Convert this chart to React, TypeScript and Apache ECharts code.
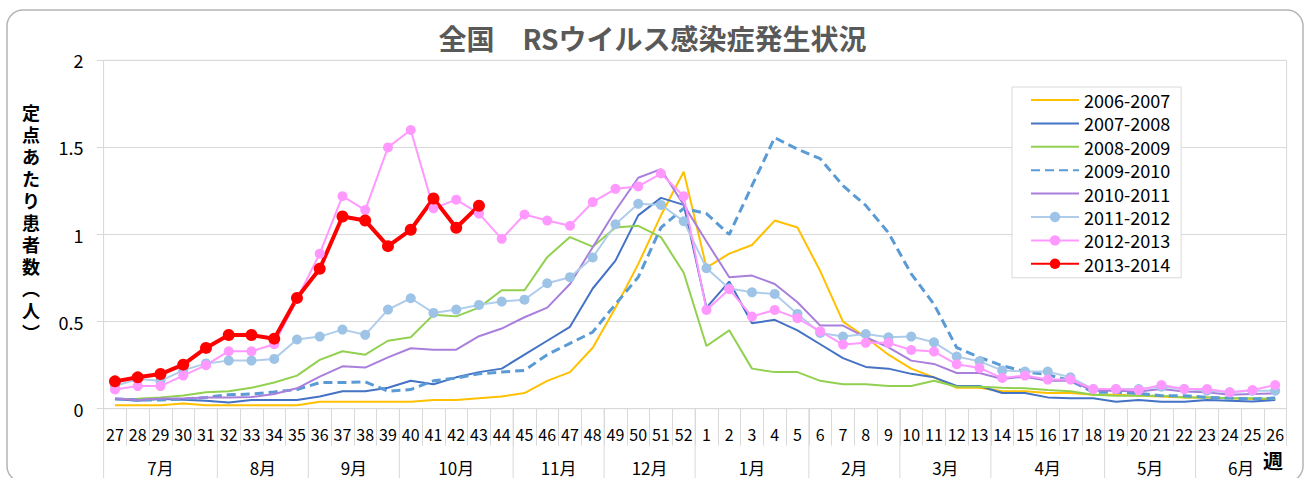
import React, { useEffect, useRef } from 'react';
import * as echarts from 'echarts';

const weeks = ['27','28','29','30','31','32','33','34','35','36','37','38','39','40','41','42','43','44','45','46','47','48','49','50','51','52',
  '1','2','3','4','5','6','7','8','9','10','11','12','13','14','15','16','17','18','19','20','21','22','23','24','25','26'];
const months = ['7月','8月','9月','10月','11月','12月','1月','2月','3月','4月','5月','6月'];
const monthWeekCounts = [5, 4, 4, 5, 4, 4, 5, 4, 4, 5, 4, 4];
const yAxisNameChars = ['定', '点', 'あ', 'た', 'り', '患', '者', '数', '︵', '人', '︶'];

const s2006 = [0.02,0.02,0.02,0.03,0.02,0.02,0.02,0.02,0.02,0.04,0.04,0.04,0.04,0.04,0.05,0.05,0.06,0.07,0.09,0.16,0.21,0.35,0.58,0.83,1.11,1.36,
  0.81,0.89,0.94,1.08,1.04,0.79,0.50,0.41,0.31,0.23,0.18,0.12,0.12,0.10,0.10,0.09,0.09,0.08,0.08,0.075,0.07,0.065,0.065,0.06,0.056,0.056];
const s2007 = [0.056,0.046,0.056,0.052,0.046,0.036,0.05,0.05,0.05,0.07,0.10,0.10,0.12,0.16,0.14,0.18,0.21,0.23,0.31,0.39,0.47,0.69,0.85,1.11,1.21,1.17,
  0.58,0.73,0.49,0.51,0.45,0.37,0.29,0.24,0.23,0.20,0.18,0.13,0.13,0.09,0.09,0.065,0.06,0.06,0.04,0.05,0.04,0.04,0.05,0.046,0.042,0.05];
const s2008 = [0.056,0.057,0.065,0.076,0.094,0.10,0.12,0.15,0.19,0.28,0.33,0.31,0.39,0.41,0.54,0.53,0.58,0.68,0.68,0.87,0.985,0.93,1.04,1.05,0.985,0.78,
  0.36,0.45,0.23,0.21,0.21,0.16,0.14,0.14,0.13,0.13,0.16,0.126,0.126,0.12,0.117,0.107,0.10,0.08,0.075,0.075,0.075,0.065,0.065,0.06,0.06,0.056];
const s2009 = [0.056,0.05,0.05,0.055,0.065,0.08,0.084,0.096,0.11,0.15,0.15,0.155,0.10,0.11,0.16,0.176,0.20,0.21,0.22,0.31,0.375,0.44,0.60,0.755,1.04,1.15,
  1.12,1.00,1.28,1.556,1.49,1.435,1.28,1.167,1.01,0.774,0.60,0.35,0.295,0.247,0.213,0.195,0.161,0.094,0.094,0.088,0.075,0.075,0.065,0.061,0.056,0.061];
const s2010 = [0.059,0.05,0.059,0.059,0.065,0.065,0.067,0.084,0.117,0.184,0.243,0.236,0.295,0.347,0.339,0.339,0.416,0.46,0.525,0.58,0.716,0.927,1.138,1.326,1.375,1.17,
  0.96,0.755,0.764,0.716,0.611,0.477,0.477,0.41,0.352,0.276,0.257,0.205,0.205,0.171,0.184,0.161,0.161,0.103,0.103,0.099,0.113,0.099,0.094,0.08,0.084,0.088];
const s2011 = [0.13,0.17,0.16,0.22,0.26,0.276,0.276,0.286,0.397,0.414,0.454,0.424,0.569,0.634,0.55,0.569,0.596,0.615,0.626,0.72,0.755,0.868,1.059,1.176,1.17,1.076,
  0.806,0.69,0.668,0.659,0.544,0.435,0.414,0.429,0.41,0.414,0.381,0.299,0.272,0.22,0.213,0.213,0.18,0.113,0.113,0.113,0.126,0.113,0.103,0.094,0.103,0.103];
const s2012 = [0.11,0.13,0.13,0.19,0.25,0.33,0.33,0.37,0.63,0.89,1.22,1.14,1.50,1.60,1.15,1.20,1.12,0.975,1.115,1.08,1.05,1.186,1.262,1.276,1.35,1.22,
  0.567,0.686,0.529,0.567,0.519,0.444,0.368,0.378,0.378,0.337,0.328,0.255,0.234,0.176,0.19,0.167,0.167,0.113,0.113,0.107,0.136,0.113,0.113,0.094,0.107,0.136];
const s2013 = [0.157,0.18,0.199,0.253,0.349,0.423,0.423,0.402,0.636,0.803,1.103,1.08,0.933,1.027,1.207,1.039,1.165];

const seriesNames = ['2006-2007','2007-2008','2008-2009','2009-2010','2010-2011','2011-2012','2012-2013','2013-2014'];
const markedSeries = ['2011-2012','2012-2013','2013-2014'];

export default function App() {
  const ref = useRef<HTMLDivElement>(null);
  useEffect(() => {
    const chart = echarts.init(ref.current!, null, { renderer: 'svg' });
    const font = '"Noto Sans CJK JP", "Noto Sans", sans-serif';
    const grid = '#d9d9d9';
    const plain = (name: string, data: number[], color: string, width: number, type: any = 'solid') => ({
      type: 'line', name, data, symbol: 'none', smooth: false,
      lineStyle: { color, width, type }, itemStyle: { color },
    });
    const marked = (name: string, data: number[], color: string, lineColor: string, width: number, size: number) => ({
      type: 'line', name, data, symbol: 'circle', symbolSize: size, showSymbol: true, smooth: false,
      lineStyle: { color: lineColor, width }, itemStyle: { color },
    });
    const option: any = {
      animation: false,
      backgroundColor: '#fff',
      title: {
        text: '全国　RSウイルス感染症発生状況', left: 'center', top: 24, padding: 0,
        textStyle: { fontFamily: font, fontSize: 28, fontWeight: 'bold', color: '#595959' },
      },
      grid: { left: 103.6, right: 18.4, top: 60.3, bottom: 69.3, show: true, borderColor: grid, borderWidth: 1 },
      legend: {
        orient: 'vertical', left: 1012, top: 87, padding: [4, 11, 5, 18],
        itemWidth: 48, itemHeight: 13, itemGap: 5.4,
        backgroundColor: '#fff', borderColor: grid, borderWidth: 1,
        textStyle: { fontFamily: font, fontSize: 18, color: '#000' },
        data: seriesNames.map((n) =>
          markedSeries.includes(n) ? { name: n } : { name: n, itemStyle: { opacity: 0 } }),
      },
      xAxis: {
        type: 'category', data: weeks, boundaryGap: true,
        axisLine: { show: true, lineStyle: { color: grid, width: 1 } },
        axisTick: { show: true, interval: 0, length: 37, lineStyle: { color: grid } },
        axisLabel: { interval: 0, fontFamily: font, fontSize: 16, color: '#000', margin: 17 },
        splitLine: { show: false },
      },
      yAxis: {
        type: 'value', min: 0, max: 2, interval: 0.5,
        axisLine: { show: true, lineStyle: { color: grid } },
        axisTick: { show: true, length: 7, lineStyle: { color: grid } },
        axisLabel: { fontFamily: font, fontSize: 18, color: '#000', margin: 20 },
        splitLine: { show: true, lineStyle: { color: grid } },
      },
      series: [
        plain(seriesNames[0], s2006, '#FFC000', 2),
        plain(seriesNames[1], s2007, '#4472C4', 2),
        plain(seriesNames[2], s2008, '#92D050', 2),
        plain(seriesNames[3], s2009, '#5B9BD5', 3, [9, 5]),
        plain(seriesNames[4], s2010, '#A97FDC', 2),
        marked(seriesNames[5], s2011, '#9DC3E6', '#AFCDEB', 2, 10),
        marked(seriesNames[6], s2012, '#FF99FF', '#FF99FF', 2, 10),
        marked(seriesNames[7], s2013, '#FF0000', '#FF0000', 4, 12),
      ],
    };
    chart.setOption(option);

    const px = (i: number) => chart.convertToPixel({ xAxisIndex: 0 } as any, i) as number;
    const y0 = chart.convertToPixel({ yAxisIndex: 0 } as any, 0) as number;
    const w = px(1) - px(0);
    const g: any[] = [];
    g.push({
      type: 'rect', silent: true, z: 0,
      shape: { x: 7, y: 10, width: 1296, height: 472, r: 16 },
      style: { fill: 'none', stroke: '#b4b4b4', lineWidth: 1.5 },
    });
    const leftX = px(0) - w / 2;
    g.push({ type: 'line', silent: true, shape: { x1: leftX, y1: y0, x2: leftX, y2: 478 }, style: { stroke: grid, lineWidth: 1 } });
    let start = 0;
    months.forEach((m, k) => {
      const end = start + monthWeekCounts[k] - 1;
      const bx = px(end) + w / 2;
      if (k < months.length - 1) {
        g.push({ type: 'line', silent: true, shape: { x1: bx, y1: y0, x2: bx, y2: 478 }, style: { stroke: grid, lineWidth: 1 } });
      }
      g.push({
        type: 'text', silent: true, x: (px(start) + px(end)) / 2, y: 467,
        style: { text: m, fontFamily: font, fontSize: 17, fill: '#000', align: 'center', verticalAlign: 'middle' },
      });
      start = end + 1;
    });
    g.push({
      type: 'text', silent: true, x: 1273, y: 460,
      style: { text: '週', fontFamily: font, fontSize: 20, fontWeight: 'bold', fill: '#000', align: 'center', verticalAlign: 'middle' },
    });
    yAxisNameChars.forEach((c, i) => {
      g.push({
        type: 'text', silent: true, x: 31, y: 112 + 22 * i,
        style: {
          text: c, fontFamily: font, fontSize: 18, fontWeight: 'bold', fill: '#000',
          align: 'center', verticalAlign: 'middle',
        },
      });
    });
    chart.setOption({ graphic: g });
    return () => chart.dispose();
  }, []);
  return <div ref={ref} style={{ position: 'fixed', left: 0, top: 0, width: 1305, height: 478 }} />;
}
